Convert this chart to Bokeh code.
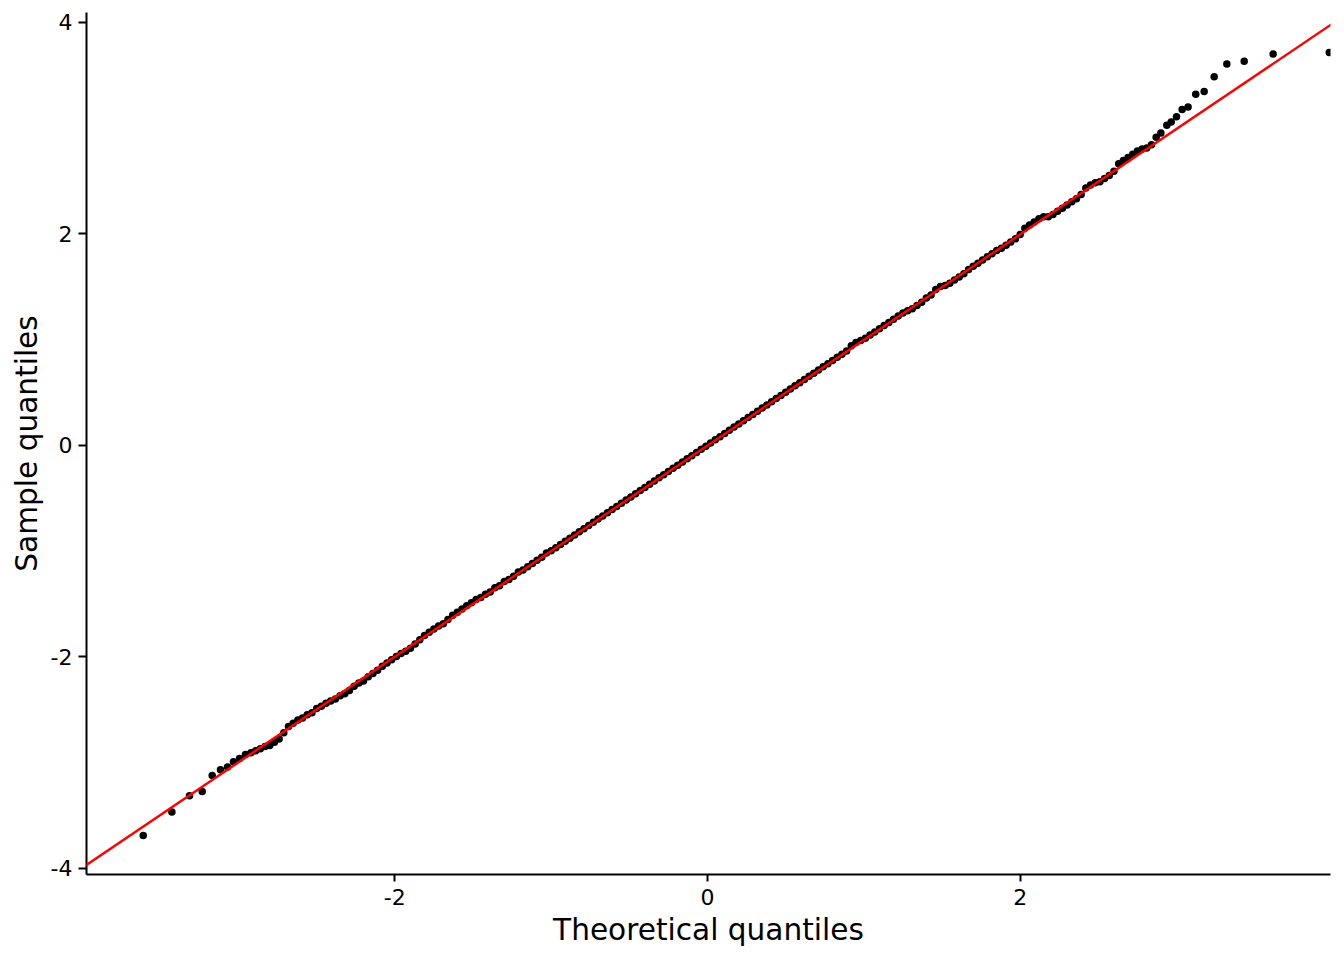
from bokeh.plotting import figure
from bokeh.models import Range1d, FixedTicker, Slope
from bokeh.embed import file_html
from bokeh.resources import INLINE

# ---- data ----
lower_tail_x = [-3.609, -3.426, -3.313, -3.232, -3.168, -3.115, -3.070, -3.032, -2.993, -2.955]
lower_tail_y = [-3.692, -3.470, -3.316, -3.275, -3.124, -3.070, -3.044, -2.994, -2.963, -2.925]

band_x = [-2.92, -2.89, -2.86, -2.83, -2.80, -2.77, -2.74, -2.71, -2.68, -2.65, -2.62, -2.59, -2.56, -2.53,
          -2.50, -2.47, -2.44, -2.41, -2.38, -2.35, -2.32, -2.29, -2.26, -2.23, -2.20, -2.17, -2.14, -2.11,
          -2.08, -2.05, -2.02, -1.99, -1.96, -1.93, -1.90, -1.87, -1.84, -1.81, -1.78, -1.75, -1.72, -1.69,
          -1.66, -1.63, -1.60, -1.57, -1.54, -1.51, -1.48, -1.45, -1.42, -1.39, -1.36, -1.33, -1.30, -1.27,
          -1.24, -1.21, -1.18, -1.15, -1.12, -1.09, -1.06, -1.03, -1.00, -0.97, -0.94, -0.91, -0.88, -0.85,
          -0.82, -0.79, -0.76, -0.73, -0.70, -0.67, -0.64, -0.61, -0.58, -0.55, -0.52, -0.49, -0.46, -0.43,
          -0.40, -0.37, -0.34, -0.31, -0.28, -0.25, -0.22, -0.19, -0.16, -0.13, -0.10, -0.07, -0.04, -0.01,
          0.02, 0.05, 0.08, 0.11, 0.14, 0.17, 0.20, 0.23, 0.26, 0.29, 0.32, 0.35, 0.38, 0.41, 0.44, 0.47,
          0.50, 0.53, 0.56, 0.59, 0.62, 0.65, 0.68, 0.71, 0.74, 0.77, 0.80, 0.83, 0.86, 0.89, 0.92, 0.95,
          0.98, 1.01, 1.04, 1.07, 1.10, 1.13, 1.16, 1.19, 1.22, 1.25, 1.28, 1.31, 1.34, 1.37, 1.40, 1.43,
          1.46, 1.49, 1.52, 1.55, 1.58, 1.61, 1.64, 1.67, 1.70, 1.73, 1.76, 1.79, 1.82, 1.85, 1.88, 1.91,
          1.94, 1.97, 2.00, 2.03, 2.06, 2.09, 2.12, 2.15, 2.18, 2.21, 2.24, 2.27, 2.30, 2.33, 2.36, 2.39,
          2.42, 2.45, 2.48, 2.51, 2.54, 2.57, 2.60, 2.63, 2.66, 2.69, 2.72, 2.75, 2.78, 2.81, 2.84, 2.87,
          2.90]
band_y = [-2.91, -2.89, -2.87, -2.85, -2.84, -2.81, -2.78, -2.72, -2.66, -2.63, -2.60, -2.58, -2.55, -2.53,
          -2.49, -2.47, -2.44, -2.42, -2.40, -2.37, -2.35, -2.32, -2.28, -2.25, -2.23, -2.19, -2.16, -2.13,
          -2.09, -2.06, -2.03, -2.00, -1.97, -1.95, -1.92, -1.88, -1.84, -1.80, -1.77, -1.74, -1.71, -1.69,
          -1.65, -1.61, -1.58, -1.55, -1.52, -1.49, -1.46, -1.44, -1.41, -1.39, -1.35, -1.33, -1.29, -1.27,
          -1.24, -1.20, -1.18, -1.15, -1.12, -1.09, -1.06, -1.02, -1.00, -0.97, -0.94, -0.91, -0.88, -0.85,
          -0.82, -0.79, -0.76, -0.73, -0.70, -0.67, -0.64, -0.61, -0.58, -0.55, -0.52, -0.49, -0.46, -0.43,
          -0.40, -0.37, -0.34, -0.31, -0.28, -0.25, -0.22, -0.19, -0.16, -0.13, -0.10, -0.07, -0.04, -0.01,
          0.02, 0.05, 0.08, 0.11, 0.14, 0.17, 0.20, 0.23, 0.26, 0.29, 0.32, 0.35, 0.38, 0.41, 0.44, 0.47,
          0.50, 0.53, 0.56, 0.59, 0.62, 0.65, 0.68, 0.71, 0.74, 0.77, 0.80, 0.83, 0.86, 0.89, 0.94, 0.97,
          0.99, 1.01, 1.04, 1.07, 1.10, 1.13, 1.16, 1.19, 1.22, 1.25, 1.27, 1.29, 1.32, 1.35, 1.39, 1.42,
          1.47, 1.50, 1.51, 1.53, 1.56, 1.59, 1.62, 1.66, 1.69, 1.72, 1.75, 1.78, 1.81, 1.84, 1.86, 1.89,
          1.92, 1.95, 1.99, 2.05, 2.08, 2.11, 2.14, 2.16, 2.16, 2.18, 2.21, 2.24, 2.27, 2.30, 2.33, 2.37,
          2.43, 2.46, 2.48, 2.49, 2.52, 2.55, 2.59, 2.66, 2.69, 2.72, 2.75, 2.78, 2.80, 2.81, 2.84, 2.91,
          2.95]

upper_tail_x = [2.938, 2.966, 3.000, 3.036, 3.074, 3.123, 3.177, 3.241, 3.322, 3.433, 3.618, 3.977]
upper_tail_y = [3.023, 3.054, 3.105, 3.174, 3.196, 3.316, 3.344, 3.483, 3.603, 3.628, 3.697, 3.711]

line_intercept = -0.005
line_slope = 0.998

x_ticks = [-2, 0, 2]
y_ticks = [-4, -2, 0, 2, 4]
tick_labels = {-4: "-4", -2: "-2", 0: "0", 2: "2", 4: "4"}

xs = lower_tail_x + band_x + upper_tail_x
ys = lower_tail_y + band_y + upper_tail_y

FONT = "DejaVu Sans"

p = figure(width=1336, height=954, output_backend="svg", toolbar_location=None,
           x_range=Range1d(-3.972, 3.985), y_range=Range1d(-4.06, 4.09),
           min_border_left=86, min_border_right=6, min_border_top=12, min_border_bottom=80)

p.scatter(xs, ys, size=7.5, color="black", line_color=None)
p.add_layout(Slope(gradient=line_slope, y_intercept=line_intercept, line_color="#ff0000", line_width=2.4))

p.xgrid.visible = False
p.ygrid.visible = False
p.outline_line_color = None
p.background_fill_color = "white"
p.border_fill_color = "white"

p.xaxis.ticker = FixedTicker(ticks=x_ticks)
p.yaxis.ticker = FixedTicker(ticks=y_ticks)
p.xaxis.major_label_overrides = tick_labels
p.yaxis.major_label_overrides = tick_labels
p.xaxis.axis_label = "Theoretical quantiles"
p.yaxis.axis_label = "Sample quantiles"

for ax in (p.xaxis, p.yaxis):
    ax.axis_line_color = "black"
    ax.axis_line_width = 2
    ax.major_tick_line_color = "black"
    ax.major_tick_line_width = 2
    ax.major_tick_in = 0
    ax.minor_tick_line_color = None
    ax.major_label_text_font = FONT
    ax.major_label_text_font_size = "22px"
    ax.major_label_text_color = "black"
    ax.axis_label_text_font = FONT
    ax.axis_label_text_font_size = "29.6px"
    ax.axis_label_text_font_style = "normal"
    ax.axis_label_text_color = "black"

p.xaxis.major_tick_out = 7
p.yaxis.major_tick_out = 8
p.xaxis.major_label_standoff = 7
p.xaxis.axis_label_standoff = 5
p.yaxis.major_label_standoff = 6
p.yaxis.axis_label_standoff = 4

open("out.html", "w").write(file_html(p, INLINE))
